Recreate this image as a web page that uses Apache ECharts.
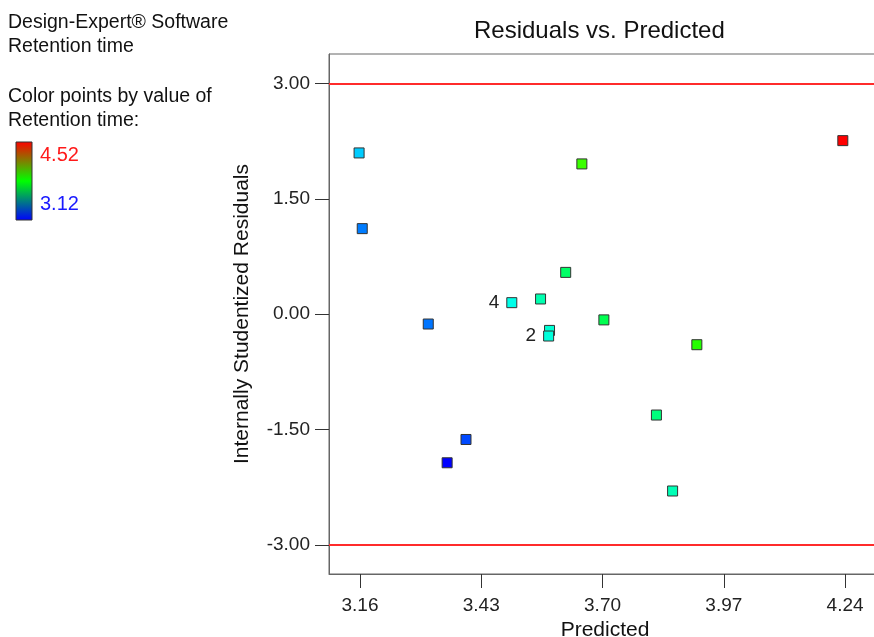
<!DOCTYPE html>
<html>
<head>
<meta charset="utf-8">
<script src="https://cdn.jsdelivr.net/npm/echarts@6/dist/echarts.min.js"></script>
<style>html,body{margin:0;padding:0;background:#fff;}#chart{width:874px;height:637px;}</style>
</head>
<body>
<div id="chart"></div>
<script>
// ---- data ----
var predicted = [3.158, 3.165, 3.312, 3.396, 3.354, 3.498, 3.562, 3.582, 3.580, 3.618, 3.654, 3.703, 3.910, 3.820, 3.856, 4.235];
var residuals = [2.098, 1.113, -0.128, -1.630, -1.933, 0.150, 0.198, -0.211, -0.284, 0.544, 1.955, -0.074, -0.397, -1.312, -2.300, 2.258];
var retention = [3.40, 3.29, 3.28, 3.22, 3.12, 3.50, 3.58, 3.53, 3.52, 3.68, 3.90, 3.71, 3.87, 3.65, 3.57, 4.52];
var pointLabels = ['', '', '', '', '', '4', '', '', '2', '', '', '', '', '', '', ''];
var xTicks = [3.16, 3.43, 3.70, 3.97, 4.24];
var yTicks = [-3.00, -1.50, 0.00, 1.50, 3.00];
var limitLines = [3.00, -3.00];
var colorRange = [3.12, 4.52];

var FONT = "'Liberation Sans', Arial, sans-serif";
var data = predicted.map(function (p, i) {
  var item = { value: [p, residuals[i], retention[i]] };
  if (pointLabels[i]) {
    item.label = { show: true, formatter: pointLabels[i], position: 'left', distance: 7,
      fontSize: 19, color: '#222', fontFamily: FONT };
  }
  return item;
});

var chart = echarts.init(document.getElementById('chart'));
chart.setOption({
  animation: false,
  backgroundColor: '#fff',
  textStyle: { fontFamily: FONT },
  title: {
    text: 'Residuals vs. Predicted',
    left: 469, top: 14,
    textStyle: { fontSize: 24, fontWeight: 'normal', color: '#111', fontFamily: FONT }
  },
  grid: { left: 329, top: 54, width: 552, height: 520, show: true, borderColor: '#666', borderWidth: 1,
    containLabel: false, outerBoundsMode: 'none' },
  xAxis: {
    type: 'value', min: 3.091, max: 4.32,
    name: 'Predicted', nameLocation: 'middle', nameGap: 40,
    nameTextStyle: { fontSize: 21, color: '#111', fontFamily: FONT },
    axisLine: { show: true, onZero: false, lineStyle: { color: '#666', width: 1 } },
    axisTick: { show: true, inside: false, length: 14, customValues: xTicks, lineStyle: { color: '#333' } },
    axisLabel: { customValues: xTicks, margin: 22, fontSize: 19, color: '#222', fontFamily: FONT,
      formatter: function (v) { return v.toFixed(2); } },
    splitLine: { show: false }
  },
  yAxis: {
    type: 'value', min: -3.38, max: 3.385,
    name: 'Internally Studentized Residuals', nameLocation: 'middle', nameGap: 76,
    nameTextStyle: { fontSize: 21, color: '#111', fontFamily: FONT },
    axisLine: { show: true, onZero: false, lineStyle: { color: '#666', width: 1 } },
    axisTick: { show: true, inside: false, length: 14, customValues: yTicks, lineStyle: { color: '#333' } },
    axisLabel: { customValues: yTicks, margin: 19, fontSize: 19, color: '#222', fontFamily: FONT,
      formatter: function (v) { return v.toFixed(2); } },
    splitLine: { show: false }
  },
  visualMap: {
    show: false, type: 'continuous', dimension: 2, seriesIndex: 0,
    min: colorRange[0], max: colorRange[1],
    inRange: { color: ['#0000ff', '#00ffff', '#00ff00', '#ffff00', '#ff0000'] }
  },
  series: [{
    type: 'scatter',
    symbol: 'rect',
    symbolSize: 10,
    itemStyle: { borderColor: '#333', borderWidth: 1, opacity: 1 },
    data: data,
    markLine: {
      silent: true, symbol: 'none', label: { show: false },
      lineStyle: { color: '#ff2b2b', width: 2, type: 'solid' },
      data: limitLines.map(function (v) { return { yAxis: v }; })
    }
  }],
  graphic: [
    { type: 'text', left: 8, top: 13, style: { text: 'Design-Expert® Software', fontSize: 19.5, fill: '#111', fontFamily: FONT } },
    { type: 'text', left: 8, top: 37, style: { text: 'Retention time', fontSize: 19.5, fill: '#111', fontFamily: FONT } },
    { type: 'text', left: 8, top: 87, style: { text: 'Color points by value of', fontSize: 19.5, fill: '#111', fontFamily: FONT } },
    { type: 'text', left: 8, top: 111, style: { text: 'Retention time:', fontSize: 19.5, fill: '#111', fontFamily: FONT } },
    { type: 'rect', shape: { x: 16, y: 142, width: 16, height: 78 },
      style: { stroke: '#333', lineWidth: 1,
        fill: new echarts.graphic.LinearGradient(0, 0, 0, 1, [
          { offset: 0, color: '#ff0000' }, { offset: 0.5, color: '#00ff00' }, { offset: 1, color: '#0000ff' }
        ]) } },
    { type: 'text', left: 40, top: 145, style: { text: colorRange[1].toFixed(2), fontSize: 20, fill: '#ff1a1a', fontFamily: FONT } },
    { type: 'text', left: 40, top: 194, style: { text: colorRange[0].toFixed(2), fontSize: 20, fill: '#1a1aff', fontFamily: FONT } }
  ]
});
</script>
</body>
</html>
